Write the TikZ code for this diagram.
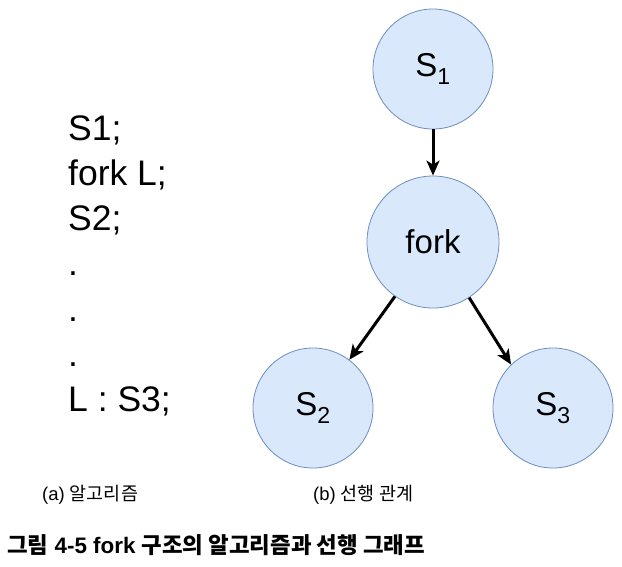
\documentclass[tikz,border=0pt]{standalone}
\usepackage{fontspec}
\setmainfont{Liberation Sans}
\newfontfamily\kr{Noto Sans CJK KR}
\usetikzlibrary{arrows.meta}
\definecolor{nodefill}{HTML}{DAE8FC}
\definecolor{nodeline}{HTML}{6C8EBF}
\tikzset{
  state/.style={circle, draw=nodeline, fill=nodefill, line width=0.8pt, inner sep=0pt, font=\fontsize{33}{33}\selectfont},
  link/.style={line width=3pt, -{Stealth[length=15pt, width=13pt, inset=4pt]}},
  caption/.style={font=\fontsize{18.5}{20}\selectfont, anchor=west, inner sep=0pt},
  codeline/.style={anchor=base west, inner sep=0pt, font=\fontsize{35.5}{40}\selectfont},
}
\begin{document}
\begin{tikzpicture}[x=1pt, y=-1pt]
\useasboundingbox (0,0) rectangle (622,566);
\node[state, minimum size=120pt] (s1) at (433,69) {S\textsubscript{1}};
\node[state, minimum size=132pt] (fork) at (433,242) {fork};
\node[state, minimum size=120pt] (s2) at (313,408) {S\textsubscript{2}};
\node[state, minimum size=120pt] (s3) at (553,408) {S\textsubscript{3}};
\draw[link] (s1) -- (fork);
\draw[link] (fork.235) -- (s2.53);
\draw[link] (fork.303) -- (s3.134);
\node[codeline] (c1) at (68,140) {S1;};
\node[codeline] (c2) at (68,185.3) {fork L;};
\node[codeline] (c3) at (68,230.6) {S2;};
\node[codeline] (c4) at (68,275.9) {.};
\node[codeline] (c5) at (68,321.2) {.};
\node[codeline] (c6) at (68,366.5) {.};
\node[codeline] (c7) at (68,411.8) {L : S3;};
\node[caption] (capa) at (42,495) {(a) {\kr 알고리즘}};
\node[caption] (capb) at (313,495) {(b) {\kr 선행 관계}};
\node[anchor=west, inner sep=0pt, font=\fontsize{22.4}{25}\selectfont\bfseries] (title) at (7,545)
  {{\kr\bfseries 그림} 4-5 fork {\kr\bfseries 구조의 알고리즘과 선행 그래프}};
\end{tikzpicture}
\end{document}
